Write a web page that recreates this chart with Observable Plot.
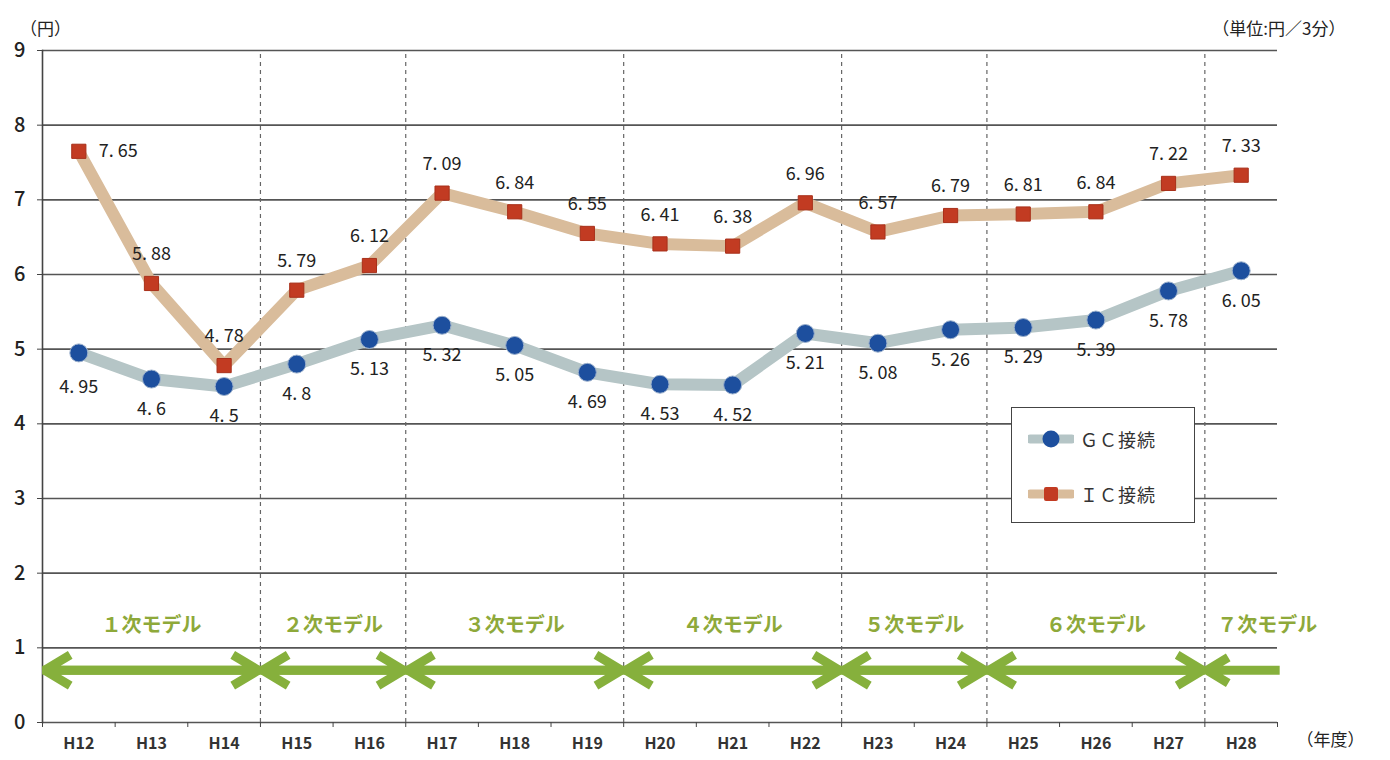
<!DOCTYPE html>
<html><head><meta charset="utf-8">
<script src="https://cdn.jsdelivr.net/npm/d3@7"></script>
<script src="https://cdn.jsdelivr.net/npm/@observablehq/plot@0.6"></script>
<style>
body{margin:0;background:#fff;font-family:"Noto Sans CJK JP","Noto Sans",sans-serif;}
#wrap{position:relative;width:1390px;height:760px;}
#legend{position:absolute;left:1011px;top:407px;width:184px;height:116px;border:1.5px solid #444;background:#fff;box-sizing:border-box;}
.item{position:absolute;left:16px;display:flex;align-items:center;font-size:18px;color:#333;letter-spacing:1px;}
.item svg{margin-right:6px;}
</style></head><body><div id="wrap"></div>
<script>
const years = ["H12","H13","H14","H15","H16","H17","H18","H19","H20","H21","H22","H23","H24","H25","H26","H27","H28"];
const gcValues = [4.95,4.6,4.5,4.8,5.13,5.32,5.05,4.69,4.53,4.52,5.21,5.08,5.26,5.29,5.39,5.78,6.05];
const icValues = [7.65,5.88,4.78,5.79,6.12,7.09,6.84,6.55,6.41,6.38,6.96,6.57,6.79,6.81,6.84,7.22,7.33];
const seriesNames = ["ＧＣ接続","ＩＣ接続"];
const models = [
  {label:"１次モデル", from:"H12", to:"H14"},
  {label:"２次モデル", from:"H15", to:"H16"},
  {label:"３次モデル", from:"H17", to:"H19"},
  {label:"４次モデル", from:"H20", to:"H22"},
  {label:"５次モデル", from:"H23", to:"H24"},
  {label:"６次モデル", from:"H25", to:"H27"},
  {label:"７次モデル", from:"H28", to:"H28"}
];
const yTicks = [0,1,2,3,4,5,6,7,8,9];
const unitLabels = {y:"（円）", unit:"（単位:円／3分）", x:"（年度）"};

const fmt = v => String(v).replace(".", ". ");
const gc = years.map((y,i)=>({i, year:y, value:gcValues[i]}));
const ic = years.map((y,i)=>({i, year:y, value:icValues[i]}));
const boundaries = d3.range(years.length + 1).map(k => k - 0.5);
const modelSpans = models.map((m,k)=>({
  ...m,
  x1: years.indexOf(m.from) - 0.5,
  x2: years.indexOf(m.to) + 0.5,
  open: k === models.length - 1
}));
const closedSpans = modelSpans.filter(d => !d.open);
const openSpans = modelSpans.filter(d => d.open);
const modelBounds = modelSpans.slice(1).map(m => m.x1);
const arrowY = 0.7, labelY = 1.3;

const GC_LINE = "#b5c5c6", GC_DOT = "#1d4f9e", IC_LINE = "#d9bc9b", IC_DOT = "#c23b22";
const GREEN = "#86b03c", GREEN_TXT = "#8ea93a";
const arrowOpts = {y1: arrowY, y2: arrowY, stroke: GREEN, strokeWidth: 9, headLength: 5, headAngle: 62, insetEnd: 2, strokeLinecap: "butt"};

const chart = Plot.plot({
  width: 1390, height: 760,
  marginLeft: 42, marginRight: 113, marginTop: 50, marginBottom: 38,
  style: {fontFamily: '"Noto Sans CJK JP", "Noto Sans", sans-serif', fontSize: "17px", color: "#222", background: "#fff"},
  x: {type: "linear", domain: [-0.5, years.length - 0.5]},
  y: {domain: [0, 9]},
  marks: [
    Plot.ruleY(yTicks, {stroke: "#555", strokeWidth: 1.6, x1: -0.5, x2: years.length - 0.5}),
    Plot.ruleX(modelBounds, {stroke: "#666", strokeWidth: 1.2, strokeDasharray: "4,4", y1: 0, y2: 9}),
    Plot.frame({anchor: "left", stroke: "#444", strokeWidth: 1.6}),
    Plot.axisY({ticks: yTicks, tickSize: 5, tickPadding: 12, fontSize: 20, fontWeight: 500, stroke: "#444", label: null}),
    Plot.axisX({ticks: boundaries, tickSize: 5, tickFormat: () => "", stroke: "#444", label: null}),
    Plot.axisX({ticks: d3.range(years.length), tickSize: 0, tickPadding: 15, tickFormat: i => years[i], fontSize: 16, fontWeight: "bold", fill: "#333", label: null}),
    // model arrows
    Plot.arrow(modelSpans, {x1: d => d.x2 + (d.open ? 0.03 : 0), x2: "x1", ...arrowOpts}),
    Plot.arrow(closedSpans, {x1: "x1", x2: "x2", ...arrowOpts}),
    Plot.text(closedSpans, {x: d => (d.x1 + d.x2)/2, y: labelY, text: "label", fill: GREEN_TXT, fontWeight: "bold", fontSize: 20}),
    Plot.text(openSpans, {x: d => (d.x1 + d.x2)/2, y: labelY, text: "label", dx: 26, fill: GREEN_TXT, fontWeight: "bold", fontSize: 20}),
    // series
    Plot.line(gc, {x: "i", y: "value", stroke: GC_LINE, strokeWidth: 12}),
    Plot.line(ic, {x: "i", y: "value", stroke: IC_LINE, strokeWidth: 12}),
    Plot.dot(gc, {x: "i", y: "value", r: 9, fill: GC_DOT, stroke: "#9bb0cc", strokeWidth: 1}),
    Plot.dot(ic, {x: "i", y: "value", r: 8, symbol: "square", fill: IC_DOT, stroke: "#a8301a", strokeWidth: 1}),
    Plot.text(gc.slice(0,1), {x: "i", y: "value", text: d => fmt(d.value), dy: 34, fill: "#222", fontSize: 18}),
    Plot.text(gc.slice(1), {x: "i", y: "value", text: d => fmt(d.value), dy: 30, fill: "#222", fontSize: 18}),
    Plot.text(ic.slice(0,1), {x: "i", y: "value", text: d => fmt(d.value), dx: 20, textAnchor: "start", fill: "#222", fontSize: 18}),
    Plot.text(ic.slice(1), {x: "i", y: "value", text: d => fmt(d.value), dy: -29, fill: "#222", fontSize: 18}),
    // unit labels
    Plot.text([unitLabels.y], {frameAnchor: "top-left", dx: 3, dy: -28, textAnchor: "middle", fontSize: 17, fill: "#222"}),
    Plot.text([unitLabels.unit], {frameAnchor: "top-right", dx: 68, dy: -28, textAnchor: "end", fontSize: 17, fill: "#222"}),
    Plot.text([unitLabels.x], {frameAnchor: "bottom-right", dx: 53, dy: 23, textAnchor: "middle", fontSize: 17, fill: "#222"})
  ]
});
const wrap = document.getElementById("wrap");
wrap.appendChild(chart);

// legend
const legend = document.createElement("div");
legend.id = "legend";
const sw = (line, dot, square) => `<svg width="46" height="20"><line x1="2" y1="10" x2="44" y2="10" stroke="${line}" stroke-width="9" stroke-linecap="round"/>` +
  (square ? `<rect x="16" y="3" width="14" height="14" rx="2" fill="${dot}"/>` : `<circle cx="23" cy="10" r="8.5" fill="${dot}"/>`) + `</svg>`;
legend.innerHTML = `<div class="item" style="top:18px">${sw(GC_LINE, GC_DOT, false)}${seriesNames[0]}</div>` +
  `<div class="item" style="top:73px">${sw(IC_LINE, IC_DOT, true)}${seriesNames[1]}</div>`;
wrap.appendChild(legend);
</script>
</body></html>
